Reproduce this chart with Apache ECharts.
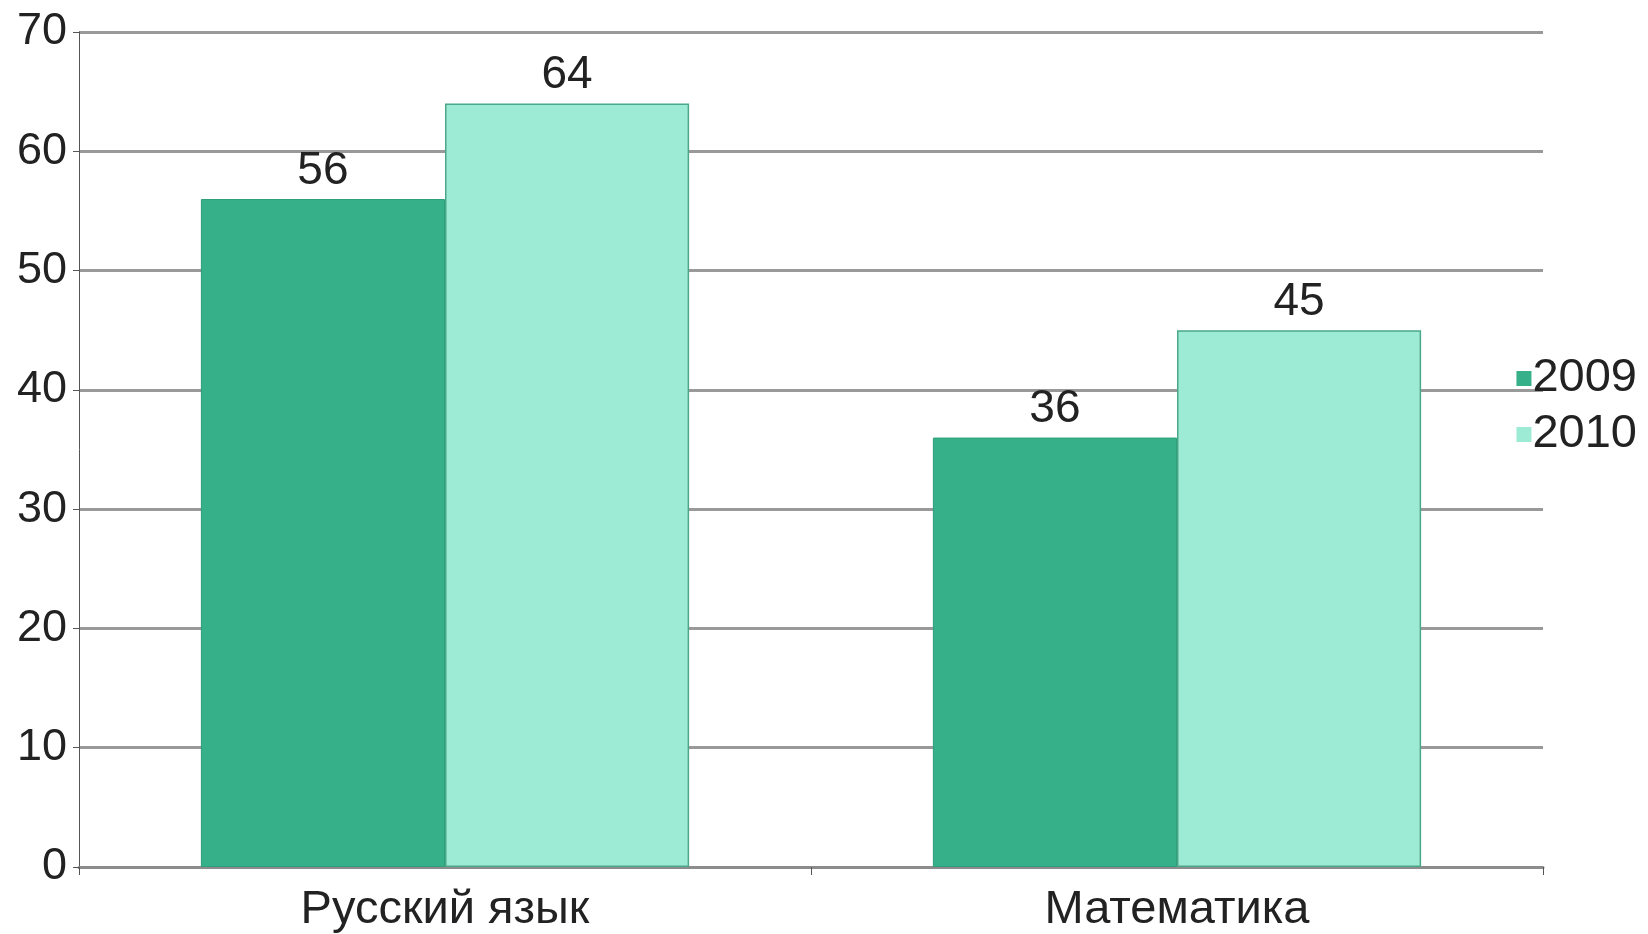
<!DOCTYPE html>
<html><head><meta charset="utf-8">
<script src="https://cdn.jsdelivr.net/npm/echarts@6/dist/echarts.min.js"></script>
<style>html,body{margin:0;padding:0;background:#fff}#c{width:1648px;height:934px}</style>
</head><body><div id="c"></div>
<script>
const categories = ['Русский язык', 'Математика'];
const seriesNames = ['2009', '2010'];
const values2009 = [56, 36];
const values2010 = [64, 45];

const chart = echarts.init(document.getElementById('c'));
const font = 'Liberation Sans, Arial, sans-serif';
chart.setOption({
  animation: false,
  backgroundColor: '#fff',
  grid: { left: 79, right: 105, top: 32, bottom: 67 },
  legend: {
    orient: 'vertical', right: 6, top: 350,
    itemWidth: 15, itemHeight: 15, itemGap: 9, icon: 'rect',
    itemStyle: { borderWidth: 0 },
    textStyle: { fontFamily: font, fontSize: 47, color: '#222', padding: [0, 0, 0, -4] },
    data: seriesNames
  },
  xAxis: {
    type: 'category', data: categories,
    axisLine: { lineStyle: { color: '#8c8c8c', width: 3 } },
    axisTick: { show: true, length: 8, lineStyle: { color: '#555', width: 1 } },
    axisLabel: { fontFamily: font, fontSize: 47, color: '#222', margin: 20 }
  },
  yAxis: {
    type: 'value', min: 0, max: 70, interval: 10,
    axisLine: { show: true, lineStyle: { color: '#555', width: 1 } },
    axisTick: { show: true, length: 6, lineStyle: { color: '#555' } },
    splitLine: { lineStyle: { color: '#999', width: 3 } },
    axisLabel: { fontFamily: font, fontSize: 45, color: '#222', margin: 12 }
  },
  series: [
    { name: seriesNames[0], type: 'bar', data: values2009, barGap: '0%', barCategoryGap: '33.3%',
      itemStyle: { color: '#35b089', borderColor: '#2e9e7b', borderWidth: 1 },
      label: { show: true, position: 'top', distance: 5, fontFamily: font, fontSize: 46, color: '#222' } },
    { name: seriesNames[1], type: 'bar', data: values2010, barGap: '0%', barCategoryGap: '33.3%',
      itemStyle: { color: '#9eebd5', borderColor: '#4aa888', borderWidth: 1.5 },
      label: { show: true, position: 'top', distance: 5, fontFamily: font, fontSize: 46, color: '#222' } }
  ]
});
</script></body></html>
